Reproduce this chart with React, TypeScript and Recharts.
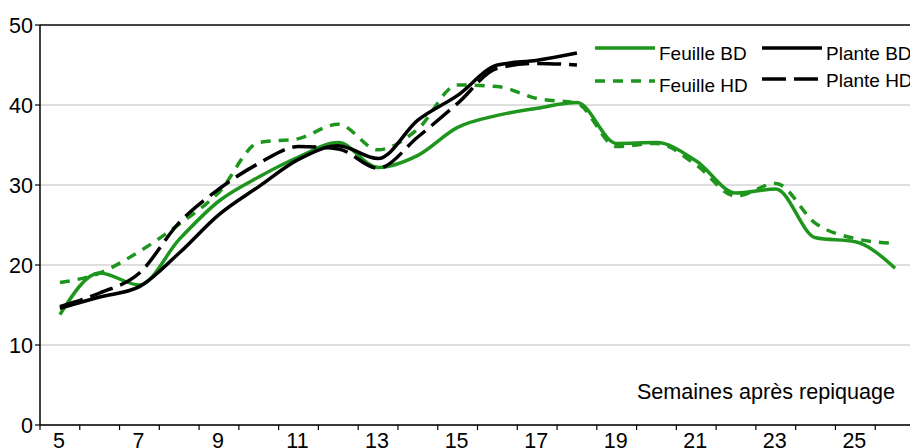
import React from 'react';
import { LineChart, Line, XAxis, YAxis, CartesianGrid, ReferenceLine } from 'recharts';

// Semaines après repiquage
const weeks = [5, 6, 7, 8, 9, 10, 11, 12, 13, 14, 15, 16, 17, 18, 19, 20, 21, 22, 23, 24, 25, 26];

const feuilleBD = [13.8, 19.0, 17.5, 23.2, 28.0, 31.0, 33.5, 35.3, 32.2, 33.7, 37.2, 38.7, 39.6, 40.3, 35.2, 35.3, 33.0, 29.0, 29.5, 23.4, 22.9, 19.6];
const feuilleHD = [17.8, 19.0, 21.7, 25.1, 29.1, 35.3, 35.8, 37.6, 34.4, 37.0, 42.5, 42.3, 40.8, 40.2, 34.8, 35.2, 32.5, 28.6, 30.2, 25.2, 23.3, 22.7];
const planteBD = [14.6, 16.0, 17.3, 21.5, 26.3, 29.8, 33.2, 34.9, 33.3, 38.1, 41.2, 45.0, 45.6, 46.5];
const planteHD = [14.8, 16.5, 19.0, 25.3, 29.5, 32.7, 34.8, 34.5, 32.1, 36.0, 40.2, 44.6, 45.2, 45.0];

const xLabels = [5, 7, 9, 11, 13, 15, 17, 19, 21, 23, 25];
const yTicks = [0, 10, 20, 30, 40, 50];

const GREEN = '#1e961e';
const FONT = '"Liberation Sans", Arial, sans-serif';

const data = weeks.map((w, i) => ({
  week: w,
  feuilleBD: feuilleBD[i],
  feuilleHD: feuilleHD[i],
  planteBD: i < planteBD.length ? planteBD[i] : null,
  planteHD: i < planteHD.length ? planteHD[i] : null,
}));

// tick marks sit between weeks, labels on the weeks
const boundaries = [...weeks.map((w) => w - 0.5), weeks[weeks.length - 1] + 0.5];
const xTicks = [...boundaries, ...xLabels].sort((a, b) => a - b);

const WeekTick = (props: any) => {
  const { x, y, payload } = props;
  const v = payload.value;
  if (v % 1 !== 0) {
    return <line x1={x} y1={y} x2={x} y2={y + 5} stroke="#000" strokeWidth={1.2} />;
  }
  return (
    <text x={x - 1} y={y + 8} dy="0.71em" textAnchor="middle" fill="#000" fontSize={21.5} fontFamily={FONT}>
      {v}
    </text>
  );
};

const legendItems = [
  { name: 'Feuille BD', color: GREEN, dash: undefined, left: 595, lineY: 48, textTop: 44 },
  { name: 'Plante BD', color: '#000', dash: undefined, left: 762, lineY: 48, textTop: 43.5 },
  { name: 'Feuille HD', color: GREEN, dash: '10 8', left: 595, lineY: 81, textTop: 75.5 },
  { name: 'Plante HD', color: '#000', dash: '24 8', left: 762, lineY: 79, textTop: 70.5 },
];

export default function App() {
  return (
    <div style={{ position: 'absolute', left: 0, top: 0, width: 910, height: 448, overflow: 'hidden', background: '#fff' }}>
      <LineChart width={915} height={448} data={data} margin={{ top: 25, right: 0, bottom: 0, left: 0 }}>
        <CartesianGrid vertical={false} stroke="#bdbdbd" strokeWidth={1.2} />
        <ReferenceLine y={50} stroke="#111" strokeWidth={1.5} />
        <XAxis
          dataKey="week"
          type="number"
          domain={[4.5, 26.5]}
          ticks={xTicks}
          interval={0}
          tick={<WeekTick />}
          tickLine={false}
          tickSize={0}
          tickMargin={0}
          height={23}
          axisLine={{ stroke: '#000', strokeWidth: 1.5 }}
          allowDataOverflow
        />
        <YAxis
          type="number"
          domain={[0, 50]}
          ticks={yTicks}
          interval={0}
          width={40}
          tickSize={5}
          tickMargin={2}
          tickLine={{ stroke: '#000', strokeWidth: 1.2 }}
          axisLine={{ stroke: '#000', strokeWidth: 1.5 }}
          tick={{ fill: '#000', fontSize: 21.5, fontFamily: FONT }}
        />
        <Line type="monotone" dataKey="feuilleHD" stroke={GREEN} strokeWidth={3.5} strokeDasharray="10 8" dot={false} isAnimationActive={false} />
        <Line type="monotone" dataKey="feuilleBD" stroke={GREEN} strokeWidth={3.5} dot={false} isAnimationActive={false} />
        <Line type="monotone" dataKey="planteHD" stroke="#000" strokeWidth={3.5} strokeDasharray="24 8" dot={false} isAnimationActive={false} />
        <Line type="monotone" dataKey="planteBD" stroke="#000" strokeWidth={3.5} dot={false} isAnimationActive={false} />
      </LineChart>

      {legendItems.map((it) => (
        <React.Fragment key={it.name}>
          <svg style={{ position: 'absolute', left: it.left, top: it.lineY - 4 }} width={60} height={8}>
            <line x1={0} y1={4} x2={60} y2={4} stroke={it.color} strokeWidth={3.5} strokeDasharray={it.dash} />
          </svg>
          <div
            style={{
              position: 'absolute',
              left: it.left + 64,
              top: it.textTop,
              fontFamily: FONT,
              fontSize: 19,
              lineHeight: '19px',
              color: '#000',
              whiteSpace: 'nowrap',
            }}
          >
            {it.name}
          </div>
        </React.Fragment>
      ))}

      <div
        style={{
          position: 'absolute',
          right: 15,
          top: 380.5,
          fontFamily: FONT,
          fontSize: 21.6,
          lineHeight: '21.6px',
          color: '#000',
          whiteSpace: 'nowrap',
        }}
      >
        Semaines après repiquage
      </div>
    </div>
  );
}
